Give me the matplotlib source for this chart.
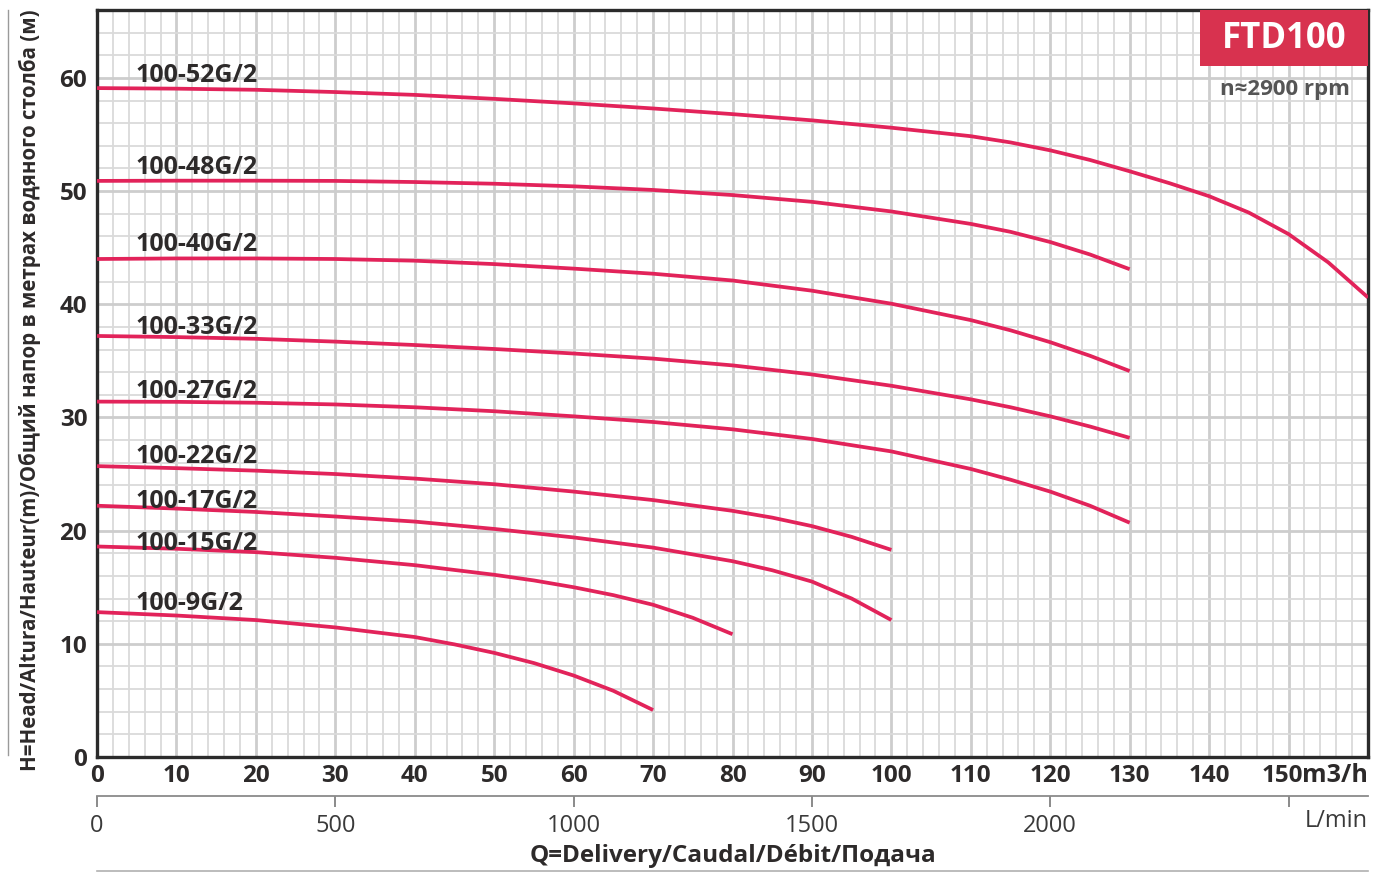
import matplotlib
matplotlib.use("Agg")
import matplotlib.pyplot as plt
from matplotlib.patches import Rectangle
from matplotlib.lines import Line2D
from matplotlib.transforms import ScaledTranslation

plt.rcParams['font.family'] = ['Open Sans', 'DejaVu Sans']

# ---------------- data (Q in m3/h, H in m) ----------------
q_52 = [0, 10, 20, 30, 40, 50, 60, 70, 80, 90, 100, 110, 115, 120, 125, 130, 135, 140,
        145, 150, 155, 160]
h_52 = [59.1, 59.05, 58.95, 58.75, 58.5, 58.15, 57.75, 57.3, 56.8, 56.25, 55.6, 54.85,
        54.3, 53.6, 52.75, 51.75, 50.7, 49.55, 48.1, 46.2, 43.7, 40.6]

q_48 = [0, 10, 20, 30, 40, 50, 60, 70, 80, 90, 100, 110, 115, 120, 125, 130]
h_48 = [50.9, 50.92, 50.92, 50.9, 50.8, 50.65, 50.42, 50.1, 49.65, 49.05, 48.2, 47.1,
        46.4, 45.5, 44.4, 43.1]

q_40 = [0, 10, 20, 30, 40, 50, 60, 70, 80, 90, 100, 110, 115, 120, 125, 130]
h_40 = [44.0, 44.05, 44.05, 44.0, 43.85, 43.55, 43.15, 42.7, 42.1, 41.2, 40.05, 38.6,
        37.7, 36.65, 35.45, 34.1]

q_33 = [0, 10, 20, 30, 40, 50, 60, 70, 80, 90, 100, 110, 115, 120, 125, 130]
h_33 = [37.2, 37.1, 36.95, 36.7, 36.4, 36.05, 35.65, 35.2, 34.6, 33.8, 32.8, 31.6,
        30.9, 30.1, 29.2, 28.2]

q_27 = [0, 10, 20, 30, 40, 50, 60, 70, 80, 90, 100, 110, 115, 120, 125, 130]
h_27 = [31.4, 31.38, 31.3, 31.15, 30.9, 30.55, 30.1, 29.6, 28.95, 28.1, 27.0, 25.45,
        24.5, 23.45, 22.2, 20.7]

q_22 = [0, 10, 20, 30, 40, 50, 60, 70, 80, 85, 90, 95, 100]
h_22 = [25.7, 25.52, 25.3, 25.0, 24.6, 24.1, 23.45, 22.7, 21.75, 21.15, 20.4, 19.45, 18.3]

q_17 = [0, 10, 20, 30, 40, 50, 60, 70, 80, 85, 90, 95, 100]
h_17 = [22.2, 21.95, 21.65, 21.25, 20.8, 20.15, 19.4, 18.5, 17.3, 16.5, 15.5, 14.0, 12.1]

q_15 = [0, 10, 20, 30, 40, 50, 55, 60, 65, 70, 75, 80]
h_15 = [18.6, 18.4, 18.1, 17.6, 16.95, 16.1, 15.6, 15.0, 14.3, 13.45, 12.3, 10.85]

q_9 = [0, 10, 20, 30, 40, 45, 50, 55, 60, 65, 70]
h_9 = [12.8, 12.5, 12.1, 11.45, 10.6, 9.95, 9.2, 8.3, 7.2, 5.85, 4.15]

models = ["100-52G/2", "100-48G/2", "100-40G/2", "100-33G/2", "100-27G/2",
          "100-22G/2", "100-17G/2", "100-15G/2", "100-9G/2"]
series_q = [q_52, q_48, q_40, q_33, q_27, q_22, q_17, q_15, q_9]
series_h = [h_52, h_48, h_40, h_33, h_27, h_22, h_17, h_15, h_9]

x_ticks = list(range(0, 151, 10))
y_ticks = [0, 10, 20, 30, 40, 50, 60]
lmin_ticks = [0, 500, 1000, 1500, 2000, 2500]
lmin_labels = ["0", "500", "1000", "1500", "2000", ""]

# label layout (baseline heights, m)
label_q = 4.8
label_h = [59.6, 51.5, 44.75, 37.4, 31.7, 25.95, 22.0, 18.3, 13.0]

# ---------------- styling ----------------
W, H = 1376, 872
CURVE = '#E2235A'
RED_BOX = '#D8324F'
TXT = '#2d2a2a'

fig = plt.figure(figsize=(W / 100, H / 100), dpi=100)
L, R, T, B = 97, 1368, 10, 757
ax = fig.add_axes([L / W, 1 - B / H, (R - L) / W, (B - T) / H])
ax.set_xlim(0, 160)
ax.set_ylim(0, 66)

ax.set_xticks(x_ticks)
ax.set_xticks([v for v in range(0, 161, 2)], minor=True)
ax.set_yticks(y_ticks)
ax.set_yticks([v for v in range(0, 67, 2)], minor=True)
ax.set_axisbelow(True)
ax.grid(which='minor', color='#dadada', lw=1.3)
ax.grid(which='major', color='#cdcdcd', lw=2.0)
ax.tick_params(which='both', length=0)
ax.tick_params(axis='x', pad=5, labelsize=17.5, labelcolor=TXT)
ax.tick_params(axis='y', pad=7, labelsize=17.5, labelcolor=TXT)
for lab in ax.get_xticklabels() + ax.get_yticklabels():
    lab.set_fontweight('bold')
# nudge the last x label away from the unit text
last = ax.get_xticklabels()[-1]
last.set_transform(last.get_transform() + ScaledTranslation(-6 / 100, 0, fig.dpi_scale_trans))

for sp in ax.spines.values():
    sp.set_color('#2b2b2b')
    sp.set_linewidth(2.4)

for q, h in zip(series_q, series_h):
    ax.plot(q, h, color=CURVE, lw=2.7, solid_capstyle='butt', solid_joinstyle='round', zorder=3)

for name, lh in zip(models, label_h):
    ax.text(label_q, lh, name, fontsize=18, fontweight='bold', color=TXT,
            ha='left', va='baseline', zorder=4)

# title box
ax.add_patch(Rectangle((1200 / W, 1 - 66 / H), (R - 1200) / W, 56 / H,
                       transform=fig.transFigure, facecolor=RED_BOX, edgecolor='none',
                       zorder=5, clip_on=False))
fig.text(1284 / W, 1 - 39 / H, "FTD100", color='white', fontsize=25, fontweight='bold',
         ha='center', va='center', zorder=6)
fig.text(1285 / W, 1 - 89 / H, "n≈2900 rpm", color='#555555', fontsize=16,
         fontweight='bold', ha='center', va='center')

# unit on main axis
fig.text(R / W, 1 - 775 / H, "m3/h", color=TXT, fontsize=18, fontweight='bold',
         ha='right', va='center')

# secondary axis in L/min
sec = ax.secondary_xaxis(-(796 - B) / (B - T),
                         functions=(lambda x: x * 1000 / 60, lambda x: x * 60 / 1000))
sec.set_xticks(lmin_ticks)
sec.set_xticklabels(lmin_labels)
sec.tick_params(axis='x', direction='out', length=8, width=1.2, color='#777777',
                labelsize=17, labelcolor='#3a3a3a', pad=5)
sec.spines['bottom'].set_color('#8a8a8a')
sec.spines['bottom'].set_linewidth(1.3)
fig.text(R / W, 1 - 821 / H, "L/min", color='#3a3a3a', fontsize=17,
         ha='right', va='center')

fig.text(733 / W, 1 - 856 / H, "Q=Delivery/Caudal/Débit/Подача", color=TXT,
         fontsize=17.5, fontweight='bold', ha='center', va='center')

# y label
fig.text(30 / W, 1 - 390 / H,
         "H=Head/Altura/Hauteur(m)/Общий напор в метрах водяного столба (м)",
         rotation=90, color=TXT, fontsize=14.8, fontweight='bold',
         ha='center', va='center')

# decorative rules
fig.add_artist(Line2D([8 / W, 8 / W], [1 - 755 / H, 1 - 10 / H], transform=fig.transFigure,
                      color='#9a9a9a', lw=1.0))
fig.add_artist(Line2D([L / W, R / W], [1 - 870.5 / H, 1 - 870.5 / H], transform=fig.transFigure,
                      color='#b0b0b0', lw=1.2))

fig.savefig("out.png", dpi=100)
